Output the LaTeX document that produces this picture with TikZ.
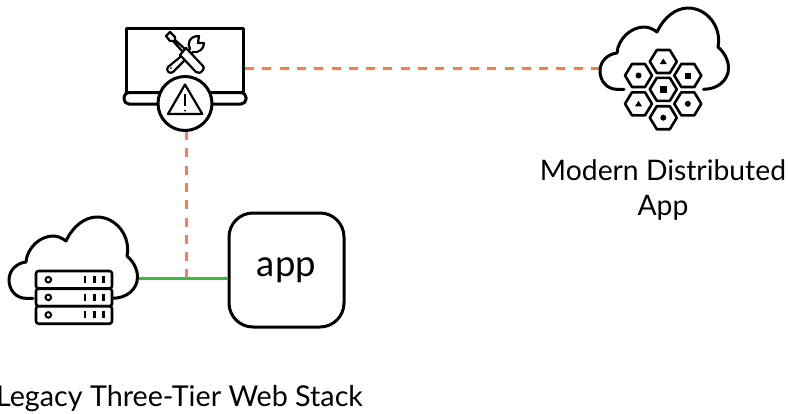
\documentclass[tikz,border=0pt]{standalone}
\usepackage{fontspec}
\setmainfont{Lato}
\definecolor{dashc}{HTML}{FA7A5C}
\definecolor{linkc}{HTML}{3DB54A}
\tikzset{
  x=1pt,y=-1pt,
  ink/.style={draw=black,line width=3pt,line cap=round,line join=round},
  thinink/.style={draw=black,line width=2.6pt,line cap=round,line join=round},
  toolink/.style={draw=black,line width=2.2pt,line cap=round,line join=round},
  dashlink/.style={draw=dashc,line width=3pt,dash pattern=on 9pt off 8.3pt},
  greenlink/.style={draw=linkc,line width=3pt},
  lbl/.style={inner sep=0pt,align=center,font=\fontsize{28.3}{35}\selectfont},
  lblwide/.style={inner sep=0pt,align=center,font=\fontsize{28.7}{35}\selectfont},
  hexa/.pic={\draw[thinink,fill=white] (-13.5,0)--(-6.5,-11.5)--(6.5,-11.5)--(13.5,0)--(6.5,11.5)--(-6.5,11.5)--cycle;},
  cloudshape/.pic={\draw[ink] (-40,0.3) -- (-47,0.3)
     .. controls (-57,0.3) and (-64,-8) .. (-64,-18)
     .. controls (-64,-28) and (-56,-35) .. (-47,-36)
     .. controls (-46,-50) and (-33,-62) .. (-20,-62)
     .. controls (-15,-62) and (-11,-60) .. (-7,-57)
     .. controls (0,-72) and (12,-81) .. (24,-81)
     .. controls (43,-81) and (58,-62) .. (54,-42)
     .. controls (60,-37) and (64.5,-29) .. (64.5,-21)
     .. controls (64.5,-9) and (54,0.3) .. (39.5,0.3);}
}
\begin{document}
\begin{tikzpicture}
\useasboundingbox (0,0) rectangle (788,413);
% connector anchors
\coordinate (mon) at (245,68);
\coordinate (cl) at (600,68);
\coordinate (alert) at (186,131);
\coordinate (junction) at (186,278);
\node[draw=black,line width=3pt,rounded corners=24pt,minimum width=115pt,minimum height=114pt,inner sep=0pt,font=\fontsize{36.5}{40}\selectfont] (app) at (286.5,270) {\raisebox{6pt}{app}};
\coordinate (legacy) at (139,278);
\draw[greenlink] (legacy) -- (app.west |- legacy);
\draw[dashlink] (mon) -- (cl);
\draw[dashlink] (alert) -- (junction);
% monitor
\draw[ink] (126.7,92) -- (126.7,28.3) -- (243.3,28.3) -- (243.3,92);
\draw[ink,rounded corners=5pt] (124,92.5) rectangle (246,104);
\node[circle,draw=black,line width=3pt,fill=white,minimum size=54pt,inner sep=0pt] (alertc) at (185,103.5) {};
\draw[toolink] (185,84.5) -- (168,114) -- (202.3,114) -- cycle;
\draw[draw=black,line width=1.5pt] (185,94) -- (185,106);
\fill (185,110.5) circle (1pt);
% tools
\draw[toolink] (190,49) .. controls (187,44) and (189,36) .. (199,36) -- (198,43) -- (204,43)
  .. controls (204,49) and (199,53) .. (193,52) -- (173,72) .. controls (170,75) and (165,70) .. (168,67) -- cycle;
\fill (171,68) circle (1pt);
\draw[toolink] (182,51) -- (173,41) -- (170,41) -- (166,36) -- (170,32) -- (175,37) -- (175,40) -- (185,49);
\draw[toolink,fill=white] (186,48) -- (180,55) -- (196,72) .. controls (198,74) and (201,73) .. (203,70) .. controls (204,68) and (204,67) .. (203,66) -- cycle;
% clouds
\pic at (664,89) {cloudshape};
\pic at (73,298) {cloudshape};
% hexagons
\pic at (663.3,89.3) {hexa};
\pic at (663.3,61.5) {hexa};
\pic at (638.5,75.5) {hexa};
\pic at (687.8,75.5) {hexa};
\pic at (638.5,103.8) {hexa};
\pic at (687.8,103.8) {hexa};
\pic at (663.3,117.7) {hexa};
\fill (659.8,85.8) rectangle (666.8,92.8);
\fill (684.8,72.5) rectangle (690.8,78.5);
\fill (663.3,58.5) -- (659.8,64) -- (666.8,64) -- cycle;
\fill (638.5,100.8) -- (635,106.3) -- (642,106.3) -- cycle;
\fill (638.5,75.5) circle (3pt);
\fill (687.8,103.8) circle (3pt);
\fill (663.3,117.7) circle (3pt);
% server
\foreach \y in {271,288.7,306.2}{
  \draw[thinink,fill=white,rounded corners=2.5pt] (36,\y) rectangle (112,{\y+17.5});
  \draw[black,line width=2pt] (48.3,{\y+8.7}) circle (2.8pt);
  \foreach \x in {85,94.3,103.3}{\draw[black,line width=2.4pt] (\x,{\y+5.2}) -- (\x,{\y+12.2});}
}
% labels
\node[lbl] (modern) at (663,190) {Modern Distributed\\App};
\node[lblwide] (legacyl) at (179.5,399) {Legacy Three-Tier Web Stack};
\end{tikzpicture}
\end{document}
